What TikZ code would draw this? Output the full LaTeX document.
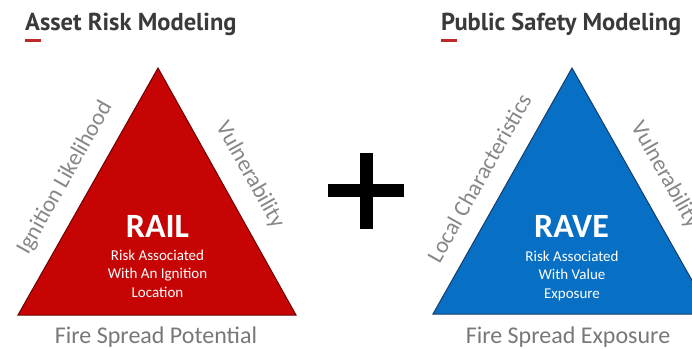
\documentclass[tikz,border=0pt]{standalone}
\usepackage{fontspec}
\setmainfont{Carlito}
\newfontfamily\titlefont{PT Sans}
\definecolor{railred}{RGB}{198,4,4}
\definecolor{railedge}{RGB}{110,0,0}
\definecolor{raveblue}{RGB}{8,112,196}
\definecolor{raveedge}{RGB}{20,60,110}
\definecolor{titlegray}{RGB}{58,58,58}
\definecolor{sidegray}{RGB}{135,135,135}
\definecolor{basegray}{RGB}{120,120,120}
\definecolor{dashred}{RGB}{192,40,40}
\tikzset{
  titletext/.style={font=\titlefont\bfseries\fontsize{24.5}{28}\selectfont, text=titlegray, inner sep=0pt, anchor=base west},
  sidetext/.style={font=\fontsize{23}{26}\selectfont, text=sidegray, inner sep=0pt},
  basetext/.style={font=\fontsize{24}{28}\selectfont, text=basegray, inner sep=0pt, anchor=base},
  bigtext/.style={font=\bfseries\fontsize{34}{38}\selectfont, text=white, inner sep=0pt, anchor=base},
  smalltext/.style={font=\fontsize{15}{18}\selectfont, text=white, inner sep=0pt, anchor=base},
  redtri/.style={fill=railred, draw=railedge, line width=1pt, line join=miter},
  bluetri/.style={fill=raveblue, draw=raveedge, line width=1pt, line join=miter},
}
\begin{document}
\begin{tikzpicture}[x=1pt,y=-1pt]
\useasboundingbox (0,0) rectangle (692,348);
\clip (0,0) rectangle (692,348);
\fill[white] (0,0) rectangle (692,348);

% titles
\node[titletext] (t1) at (25,30) {Asset Risk Modeling};
\node[titletext] (t2) at (441,30) {Public Safety Modeling};
\draw[dashred, line width=3pt] (25,40) -- (41,40);
\draw[dashred, line width=3pt] (441,40) -- (457,40);

% triangles
\draw[redtri] (158,68) -- (296,315) -- (18,315) -- cycle;
\draw[bluetri] (572,68) -- (711,314) -- (433,314) -- cycle;

% plus
\fill[black] (360,153) rectangle (373,229);
\fill[black] (328,184) rectangle (404,197);

% RAIL text
\node[bigtext] (rail) at (157.5,237) {RAIL};
\node[smalltext] (r1) at (157.5,260) {Risk Associated};
\node[smalltext] (r2) at (157.5,278.5) {With An Ignition};
\node[smalltext] (r3) at (157.5,297) {Location};

% RAVE text
\node[bigtext] (rave) at (571.5,237) {RAVE};
\node[smalltext] (b1) at (572,261) {Risk Associated};
\node[smalltext] (b2) at (572,279.5) {With Value};
\node[smalltext] (b3) at (572,298) {Exposure};

% side labels
\node[sidetext, rotate=60.6] (il) at (65,178) {Ignition Likelihood};
\node[sidetext, rotate=-60.6] (vu1) at (250,175) {Vulnerability};
\node[sidetext, rotate=60.6] (lc) at (479,178) {Local Characteristics};
\node[sidetext, rotate=-60.6] (vu2) at (665,175) {Vulnerability};

% bottom labels
\node[basetext] (fsp) at (156,343) {Fire Spread Potential};
\node[basetext] (fse) at (568,343) {Fire Spread Exposure};
\end{tikzpicture}
\end{document}
